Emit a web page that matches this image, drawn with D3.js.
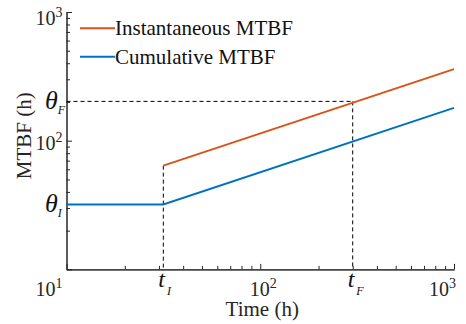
<!DOCTYPE html>
<html>
<head>
<meta charset="utf-8">
<script src="https://cdn.jsdelivr.net/npm/d3@7"></script>
<style>
  body { margin: 0; background: #fff; }
</style>
</head>
<body>
<div id="chart"></div>
<script>
// data
const seriesNames = ["Instantaneous MTBF", "Cumulative MTBF"];
const seriesColors = ["#D95319", "#0072BD"];
const instTime = [31.6, 1000];
const instMTBF = [64, 360];
const cumTime = [10, 31.6, 1000];
const cumMTBF = [32, 32, 180];
const tI = 31.6, tF = 300;
const thetaI = 32, thetaF = 202;
const majorTicks = [10, 100, 1000];
const majorLabels = ["1", "2", "3"];

const width = 466, height = 324;
const margin = { top: 12, right: 12, bottom: 54.6, left: 66.5 };
const serif = "'Liberation Serif', 'Times New Roman', Times, serif";

const svg = d3.select("#chart").append("svg")
  .attr("width", width).attr("height", height)
  .attr("font-family", serif);

const x = d3.scaleLog().domain([10, 1000]).range([margin.left, width - margin.right]);
const y = d3.scaleLog().domain([10, 1000]).range([height - margin.bottom, margin.top]);

const minorTicks = [];
[10, 100].forEach((d) => { for (let k = 2; k <= 9; k++) minorTicks.push(d * k); });

const axisColor = "#262626";

// axes with inward ticks: one pass for minor, one for major
function styleAxis(g) {
  g.select(".domain").attr("stroke", axisColor).attr("stroke-width", 1);
  g.selectAll(".tick line").attr("stroke", axisColor);
  g.selectAll(".tick text").remove();
}
[[minorTicks, -3.5], [majorTicks, -5.5]].forEach(([vals, size]) => {
  svg.append("g").attr("transform", `translate(0,${y(10)})`)
    .call(d3.axisBottom(x).tickValues(vals).tickSizeInner(size).tickSizeOuter(0))
    .call(styleAxis);
  svg.append("g").attr("transform", `translate(${x(10)},0)`)
    .call(d3.axisLeft(y).tickValues(vals).tickSizeInner(size).tickSizeOuter(0))
    .call(styleAxis);
});

// power-of-ten tick labels
function powLabel(g, base, exp) {
  g.append("tspan").text(base);
  g.append("tspan").attr("dy", -8).attr("font-size", 14).text(exp);
}
const fs = 20;
[1, 2].forEach((i) => {
  const t = svg.append("text").attr("x", x(10) - 4)
    .attr("y", Math.max(y(majorTicks[i]) + 9.3, 25))
    .attr("text-anchor", "end").attr("font-size", fs).attr("fill", axisColor);
  powLabel(t, "10", majorLabels[i]);
});
const xLab = [
  { v: 10, anchor: "end", dx: -4 },
  { v: 100, anchor: "middle", dx: 3 },
  { v: 1000, anchor: "end", dx: 2 }
];
xLab.forEach((l) => {
  const i = majorTicks.indexOf(l.v);
  const t = svg.append("text").attr("x", x(l.v) + l.dx).attr("y", y(10) + 27)
    .attr("text-anchor", l.anchor).attr("font-size", fs).attr("fill", axisColor);
  powLabel(t, "10", majorLabels[i]);
});

// symbolic labels
function symLabel(px, py, sym, sub, size, subDx, subDy) {
  const t = svg.append("text").attr("x", px).attr("y", py)
    .attr("font-size", size).attr("font-style", "italic").attr("fill", "#111");
  t.append("tspan").text(sym);
  t.append("tspan").attr("dx", subDx).attr("dy", subDy).attr("font-size", 12).text(sub);
}
symLabel(x(10) - 21.5, y(thetaF) + 8, "θ", "F", 26, 0, 5);
symLabel(x(10) - 21.5, y(thetaI) + 8, "θ", "I", 26, 0, 5);
symLabel(x(tI) - 5, y(10) + 18, "t", "I", 24, 2, 8);
symLabel(x(tF) - 5, y(10) + 18, "t", "F", 24, 2, 8);

// axis titles
svg.append("text").attr("x", x(100) + 2).attr("y", y(10) + 47)
  .attr("text-anchor", "middle").attr("font-size", 21).attr("fill", axisColor)
  .text("Time (h)");
svg.append("text").attr("transform", `translate(31,${(margin.top + y(10)) / 2 - 5}) rotate(-90)`)
  .attr("text-anchor", "middle").attr("font-size", 21).attr("fill", axisColor)
  .text("MTBF (h)");

// dashed guides
const dash = "4,3";
svg.append("line").attr("x1", x(10)).attr("x2", x(tF)).attr("y1", y(thetaF)).attr("y2", y(thetaF))
  .attr("stroke", "#000").attr("stroke-dasharray", dash);
svg.append("line").attr("x1", x(tF)).attr("x2", x(tF)).attr("y1", y(thetaF)).attr("y2", y(10))
  .attr("stroke", "#000").attr("stroke-dasharray", dash);
svg.append("line").attr("x1", x(tI)).attr("x2", x(tI)).attr("y1", y(instMTBF[0])).attr("y2", y(10))
  .attr("stroke", "#000").attr("stroke-dasharray", dash);

// series
const line = d3.line().x((d) => x(d[0])).y((d) => y(d[1]));
const series = [
  d3.zip(instTime, instMTBF),
  d3.zip(cumTime, cumMTBF)
];
series.forEach((s, i) => {
  svg.append("path").datum(s).attr("d", line)
    .attr("fill", "none").attr("stroke", seriesColors[i]).attr("stroke-width", 2);
});

// legend
seriesNames.forEach((name, i) => {
  const ly = 28.3 + i * 28.4;
  svg.append("line").attr("x1", 80).attr("x2", 115).attr("y1", ly).attr("y2", ly)
    .attr("stroke", seriesColors[i]).attr("stroke-width", 2);
  svg.append("text").attr("x", 115).attr("y", ly + 7).attr("font-size", 21)
    .attr("fill", "#111").text(name);
});
</script>
</body>
</html>
